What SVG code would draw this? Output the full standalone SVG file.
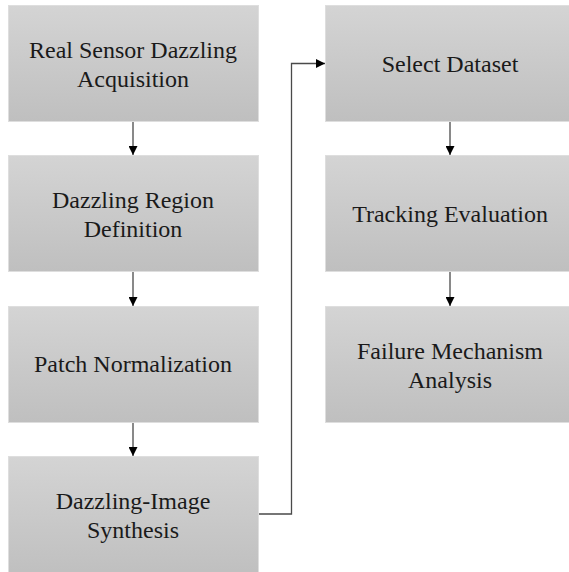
<svg xmlns="http://www.w3.org/2000/svg" width="569" height="572" viewBox="0 0 569 572">
  <defs>
    <linearGradient id="boxFill" x1="0" y1="0" x2="0" y2="1">
      <stop offset="0" stop-color="#d4d4d4"/>
      <stop offset="1" stop-color="#bfbfbf"/>
    </linearGradient>
    <marker id="arrow" viewBox="0 0 10 10" refX="10" refY="5" markerWidth="9" markerHeight="9" markerUnits="userSpaceOnUse" orient="auto">
      <path d="M0,0 L10,5 L0,10 Z" fill="#000"/>
    </marker>
    <style>
      .box { fill: url(#boxFill); stroke: #dedede; stroke-width: 1; }
      .label { font-size: 24px; fill: #1a1a1a; text-anchor: middle; }
      .conn { fill: none; stroke: #4a4a4a; stroke-width: 1.3; marker-end: url(#arrow); }
    </style>
  </defs>

  <rect width="569" height="572" fill="#fff"/>

  <g font-family="Liberation Serif, Times New Roman, DejaVu Serif, serif">
    <!-- left column -->
    <g id="acquisition">
      <rect class="box" x="8.5" y="5.5" width="250" height="116"/>
      <text class="label" x="133" y="58">Real Sensor Dazzling</text>
      <text class="label" x="133" y="87">Acquisition</text>
    </g>
    <g id="region-definition">
      <rect class="box" x="8.5" y="155.5" width="250" height="116"/>
      <text class="label" x="133" y="208">Dazzling Region</text>
      <text class="label" x="133" y="237">Definition</text>
    </g>
    <g id="patch-normalization">
      <rect class="box" x="8.5" y="306.5" width="250" height="116"/>
      <text class="label" x="133" y="372">Patch Normalization</text>
    </g>
    <g id="image-synthesis">
      <rect class="box" x="8.5" y="456.5" width="250" height="120"/>
      <text class="label" x="133" y="509">Dazzling-Image</text>
      <text class="label" x="133" y="538">Synthesis</text>
    </g>

    <!-- right column -->
    <g id="select-dataset">
      <rect class="box" x="325.5" y="5.5" width="250" height="116"/>
      <text class="label" x="450" y="72">Select Dataset</text>
    </g>
    <g id="tracking-evaluation">
      <rect class="box" x="325.5" y="155.5" width="250" height="116"/>
      <text class="label" x="450" y="222">Tracking Evaluation</text>
    </g>
    <g id="failure-analysis">
      <rect class="box" x="325.5" y="306.5" width="250" height="116"/>
      <text class="label" x="450" y="359">Failure Mechanism</text>
      <text class="label" x="450" y="388">Analysis</text>
    </g>
  </g>

  <!-- connectors -->
  <g id="connectors">
    <line class="conn" x1="133" y1="122" x2="133" y2="155"/>
    <line class="conn" x1="133" y1="272" x2="133" y2="306"/>
    <line class="conn" x1="133" y1="423" x2="133" y2="456"/>
    <polyline class="conn" points="259,514 291.5,514 291.5,63.5 325,63.5"/>
    <line class="conn" x1="450" y1="122" x2="450" y2="155"/>
    <line class="conn" x1="450" y1="272" x2="450" y2="306"/>
  </g>
</svg>
